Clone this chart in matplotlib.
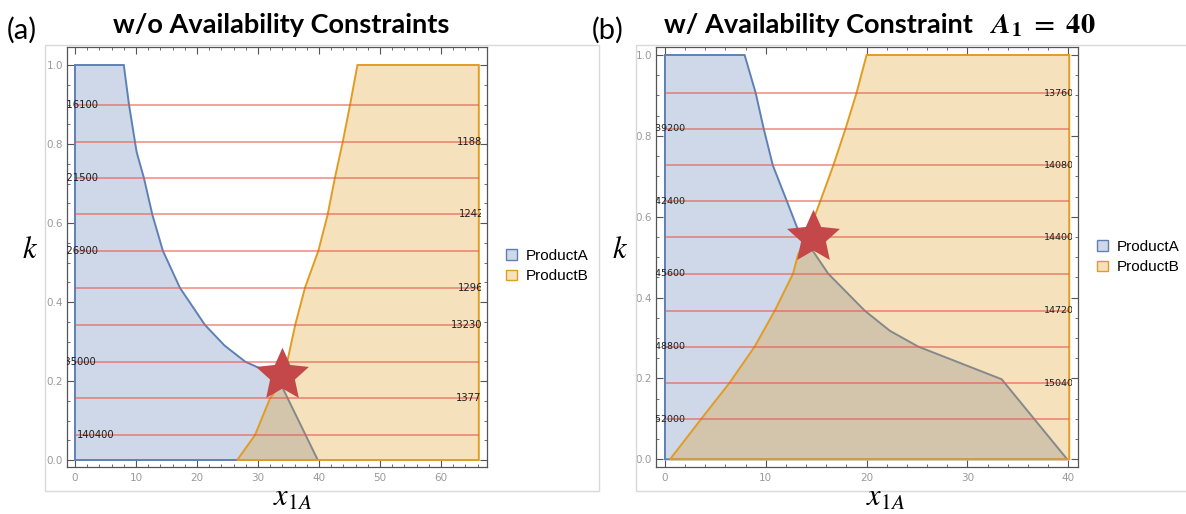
import numpy as np
import matplotlib.pyplot as plt
from matplotlib.patches import Rectangle, Patch
from matplotlib.path import Path
from matplotlib.ticker import MultipleLocator

plt.rcParams['mathtext.fontset'] = 'stix'

# ---- (a) no availability constraint ----
a_prodA_x = [0, 0, 8.0, 8.85, 10.1, 11.3, 12.7, 14.4, 17.2, 21.3, 24.5, 27.9, 30.9, 33.8, 39.8]
a_prodA_k = [0, 1.0, 1.0, 0.90, 0.78, 0.714, 0.62, 0.53, 0.436, 0.342, 0.29, 0.249, 0.228, 0.19, 0]
a_prodB_x = [26.6, 29.5, 32.0, 33.6, 34.8, 36.1, 37.7, 39.9, 41.4, 42.6, 43.9, 45.1, 46.3, 66.2, 66.2]
a_prodB_k = [0, 0.063, 0.157, 0.19, 0.249, 0.342, 0.436, 0.53, 0.62, 0.714, 0.806, 0.9, 1.0, 1.0, 0]
a_levels_k = [0.900, 0.806, 0.713, 0.622, 0.530, 0.436, 0.342, 0.249, 0.156, 0.063]
a_levels_val = [116100, 118800, 121500, 124200, 126900, 129600, 132300, 135000, 137700, 140400]
a_optimum = (33.9, 0.215)

# ---- (b) availability constraint A1 = 40 ----
b_prodA_x = [0, 0, 7.9, 9.0, 9.8, 10.7, 12.1, 13.5, 14.6, 16.2, 19.8, 22.3, 25.1, 29.3, 33.4, 39.9]
b_prodA_k = [0, 1.0, 1.0, 0.906, 0.817, 0.727, 0.638, 0.548, 0.518, 0.459, 0.368, 0.318, 0.279, 0.238, 0.198, 0]
b_prodB_x = [0.5, 3.6, 6.4, 8.9, 10.9, 12.7, 13.2, 14.3, 15.4, 16.7, 17.9, 19.0, 20.0, 40.1, 40.1]
b_prodB_k = [0, 0.1, 0.189, 0.279, 0.368, 0.459, 0.506, 0.565, 0.638, 0.727, 0.817, 0.906, 1.0, 1.0, 0]
b_levels_k = [0.906, 0.817, 0.727, 0.638, 0.549, 0.459, 0.368, 0.279, 0.188, 0.099]
b_levels_val = [137600, 139200, 140800, 142400, 144000, 145600, 147200, 148800, 150400, 152000]
b_optimum = (14.65, 0.551)

blue = '#5e81b5'
orange = '#e19c24'
blue_fill = (0.369, 0.506, 0.71, 0.3)
orange_fill = (0.882, 0.612, 0.141, 0.3)
W, H = 1186, 514

# five-pointed star with fairly broad arms
ang = np.pi / 2 + np.arange(10) * np.pi / 5
rad = np.where(np.arange(10) % 2 == 0, 1.0, 0.47)
star_verts = np.column_stack([rad * np.cos(ang), rad * np.sin(ang)])
star = Path(np.vstack([star_verts, star_verts[:1]]), closed=True)

fig = plt.figure(figsize=(W / 100, H / 100), dpi=100)


def px_box(l, t, r, b):
    return [l / W, 1 - b / H, (r - l) / W, (b - t) / H]


def panel(ax, ax_, ak_, bx_, bk_, lev_k, lev_v, lab_x, x_end, opt, xlim, ylim, lab_fs):
    ax.fill(ax_, ak_, fc=blue_fill, ec=blue, lw=1.4, zorder=2)
    ax.fill(bx_, bk_, fc=orange_fill, ec=orange, lw=1.4, zorder=3)
    ax.hlines(lev_k, 0, x_end, colors='#e8574c', lw=1.1, alpha=0.7, zorder=4)
    clip = Rectangle((xlim[0], ylim[0]), x_end + 0.3 - xlim[0], ylim[1] - ylim[0],
                     transform=ax.transData)
    for k, v, x in zip(lev_k, lev_v, lab_x):
        t = ax.text(x, k, str(v), fontsize=lab_fs, color='#1e1e1e',
                    ha='left', va='center', zorder=5, clip_on=True)
        t.set_clip_path(clip)
    ax.plot(*opt, marker=star, ms=40, color='#c4474a', mec='none', zorder=6)
    ax.set_xlim(*xlim)
    ax.set_ylim(*ylim)
    ax.xaxis.set_major_locator(MultipleLocator(10))
    ax.xaxis.set_minor_locator(MultipleLocator(2))
    ax.yaxis.set_major_locator(MultipleLocator(0.2))
    ax.yaxis.set_minor_locator(MultipleLocator(0.05))
    ax.yaxis.set_major_formatter(lambda v, p: f'{v:.1f}')
    ax.tick_params(which='both', direction='in', top=True, right=True,
                   color='#555555', labelcolor='#9a9a9a', labelsize=7.5)
    ax.tick_params(which='major', length=5, width=0.8)
    ax.tick_params(which='minor', length=2.5, width=0.6)
    ax.tick_params(axis='x', pad=4)
    ax.tick_params(axis='y', pad=3)
    for s in ax.spines.values():
        s.set_color('#555555')
        s.set_linewidth(0.9)


ax1 = fig.add_axes(px_box(67, 47, 487, 467))
a_lab_x = [-2.3, 62.6, -2.3, 63.0, -2.3, 62.7, 61.6, -2.6, 62.5, 0.3]
panel(ax1, a_prodA_x, a_prodA_k, a_prodB_x, a_prodB_k, a_levels_k, a_levels_val,
      a_lab_x, 66.2, a_optimum, (-1.31, 67.54), (-0.0177, 1.0456), 7.2)

ax2 = fig.add_axes(px_box(656, 47, 1078, 467))
b_lab_x = [37.6, -1.5, 37.6, -1.5, 37.6, -1.5, 37.6, -1.5, 37.6, -1.5]
panel(ax2, b_prodA_x, b_prodA_k, b_prodB_x, b_prodB_k, b_levels_k, b_levels_val,
      b_lab_x, 40.1, b_optimum, (-0.89, 40.97), (-0.019, 1.0198), 6.8)

# light frames around each graphic
for l, r in [(45, 599), (636, 1200)]:
    fig.add_artist(Rectangle((l / W, 1 - 491 / H), (r - l) / W, (491 - 45) / H,
                             transform=fig.transFigure, fill=False,
                             ec='#d9d9d9', lw=1.0))

handles = [Patch(fc=blue_fill, ec=blue, lw=1.0), Patch(fc=orange_fill, ec=orange, lw=1.0)]
for x, y in [(506, 266), (1097, 257)]:
    fig.legend(handles, ['ProductA', 'ProductB'], loc='center left',
               bbox_to_anchor=(x / W, 1 - y / H), frameon=False,
               prop={'family': 'Liberation Sans', 'size': 11},
               handlelength=0.7, handleheight=0.7, handletextpad=0.6,
               labelspacing=0.45, borderpad=0, borderaxespad=0)

fig.text(281 / W, 1 - 25 / H, 'w/o Availability Constraints', ha='center', va='center',
         fontsize=19.5, fontweight='bold', family='Lato')
fig.text(973 / W, 1 - 25 / H, 'w/ Availability Constraint', ha='right', va='center',
         fontsize=19.5, fontweight='bold', family='Lato')
fig.text(990 / W, 1 - 25 / H, r'$\mathbfit{A}_{\mathbf{1}}\mathbf{\ =\ 40}$',
         ha='left', va='center', fontsize=20.5)

for x, s in [(7, '(a)'), (592, '(b)')]:
    fig.text(x / W, 1 - 30 / H, s, ha='left', va='center', fontsize=21, family='Lato')
for x in (30, 620):
    fig.text(x / W, 1 - 250 / H, '$k$', ha='center', va='center', fontsize=22)
for x in (293, 886):
    fig.text(x / W, 1 - 506 / H, '$x_{1A}$', ha='center', va='baseline', fontsize=22)

fig.savefig('out.png', dpi=100)
